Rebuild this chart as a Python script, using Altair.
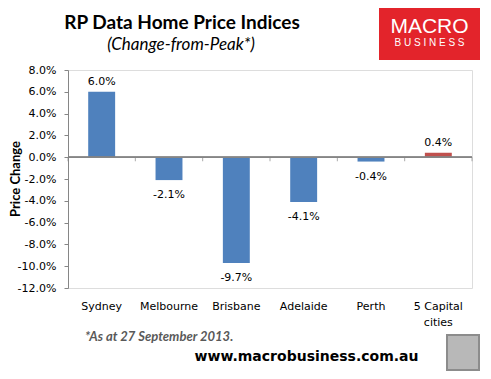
import altair as alt
import pandas as pd

cities = ["Sydney", "Melbourne", "Brisbane", "Adelaide", "Perth", "5 Capital cities"]
changes = [0.060, -0.021, -0.097, -0.041, -0.004, 0.004]
bar_colors = ["#4F81BD", "#4F81BD", "#4F81BD", "#4F81BD", "#4F81BD", "#C0504D"]
y_ticks = [0.08, 0.06, 0.04, 0.02, 0.0, -0.02, -0.04, -0.06, -0.08, -0.10, -0.12]

df = pd.DataFrame({"city": cities, "change": changes, "color": bar_colors})

W, H = 404, 218
LABEL_FONT = "DejaVu Sans"
TITLE_FONT = "Lato"
AXIS_GRAY = "#868686"
PAD_IN, PAD_OUT = 0.6, 0.3
STEP = W / (len(cities) - PAD_IN + 2 * PAD_OUT)
GAP_HALF = STEP * PAD_IN / 2

xscale = alt.Scale(domain=cities, paddingInner=PAD_IN, paddingOuter=PAD_OUT)
yscale = alt.Scale(domain=[-0.12, 0.08], nice=False, zero=False)

yaxis = alt.Axis(
    values=y_ticks, format=".1%", grid=False, domainColor=AXIS_GRAY, tickColor=AXIS_GRAY,
    tickSize=4, labelPadding=8, labelFont=LABEL_FONT, labelFontSize=11, labelColor="#000000",
    title=None, domainWidth=1,
)

label_axis = alt.Axis(
    title=None, domain=False, ticks=False, labelAngle=0, labelPadding=12,
    labelFont=LABEL_FONT, labelFontSize=11, labelColor="#000000", labelLineHeight=16,
    labelExpr="datum.label == '5 Capital cities' ? ['5 Capital', 'cities'] : datum.label",
)


def X(**kw):
    return alt.X("city:N", scale=xscale, sort=cities, axis=label_axis, **kw)


base = alt.Chart(df)

bars = base.mark_bar().encode(
    x=X(),
    y=alt.Y("change:Q", scale=yscale, axis=yaxis),
    color=alt.Color("color:N", scale=None, legend=None),
)

zero_line = base.transform_calculate(z="0").mark_rule(color=AXIS_GRAY, strokeWidth=1).encode(
    y=alt.Y("z:Q", scale=yscale, axis=yaxis)
)

cat_ticks = base.transform_calculate(z="0").mark_tick(
    orient="vertical", size=4, thickness=1, yOffset=2, xOffset=-GAP_HALF, color=AXIS_GRAY
).encode(
    x=X(bandPosition=0),
    y=alt.Y("z:Q", scale=yscale, axis=yaxis),
)

end_tick = base.transform_filter(
    alt.datum.city == cities[-1]
).transform_calculate(z="0").mark_tick(
    orient="vertical", size=4, thickness=1, yOffset=2, xOffset=GAP_HALF, color=AXIS_GRAY
).encode(
    x=X(bandPosition=1),
    y=alt.Y("z:Q", scale=yscale, axis=yaxis),
)

pos_text = base.transform_filter("datum.change >= 0").mark_text(
    baseline="bottom", dy=-5, font=LABEL_FONT, fontSize=11, color="#000000"
).encode(
    x=X(),
    y=alt.Y("change:Q", scale=yscale, axis=yaxis),
    text=alt.Text("change:Q", format=".1%"),
)

neg_text = base.transform_filter("datum.change < 0").mark_text(
    baseline="top", dy=9, font=LABEL_FONT, fontSize=11, color="#000000"
).encode(
    x=X(),
    y=alt.Y("change:Q", scale=yscale, axis=yaxis),
    text=alt.Text("change:Q", format=".1%"),
)

# decorations (page coords minus plot origin (68, 70))
title = alt.Chart(pd.DataFrame({"t": ["RP Data Home Price Indices"]})).mark_text(
    font=TITLE_FONT, fontSize=19, fontWeight="bold", color="#000000", align="center", baseline="middle"
).encode(x=alt.value(114), y=alt.value(-47), text="t:N")

subtitle = alt.Chart(pd.DataFrame({"t": ["(Change-from-Peak*)"]})).mark_text(
    font=TITLE_FONT, fontSize=17, fontStyle="italic", color="#000000", align="center", baseline="middle"
).encode(x=alt.value(113), y=alt.value(-25), text="t:N")

ytitle = alt.Chart(pd.DataFrame({"t": ["Price Change"]})).mark_text(
    font=TITLE_FONT, fontSize=13, fontWeight="bold", color="#000000", angle=270,
    align="center", baseline="middle"
).encode(x=alt.value(-52), y=alt.value(109), text="t:N")

logo_bg = alt.Chart(pd.DataFrame({"a": [1]})).mark_rect(color="#E3242B").encode(
    x=alt.value(311), x2=alt.value(412), y=alt.value(-63), y2=alt.value(-10)
)
logo_t1 = alt.Chart(pd.DataFrame({"t": ["MACRO"]})).mark_text(
    font="Liberation Sans", fontSize=21, color="#FFFFFF", align="center", baseline="middle"
).encode(x=alt.value(361.5), y=alt.value(-43), text="t:N")
logo_t2 = alt.Chart(pd.DataFrame({"t": ["B U S I N E S S"]})).mark_text(
    font="Liberation Sans", fontSize=10, color="#FFFFFF", align="center", baseline="middle"
).encode(x=alt.value(361.5), y=alt.value(-27), text="t:N")

footnote = alt.Chart(pd.DataFrame({"t": ["*As at 27 September 2013."]})).mark_text(
    font=TITLE_FONT, fontSize=13, fontWeight="bold", fontStyle="italic", color="#595959",
    align="left", baseline="middle"
).encode(x=alt.value(17), y=alt.value(267), text="t:N")

url = alt.Chart(pd.DataFrame({"t": ["www.macrobusiness.com.au"]})).mark_text(
    font="DejaVu Sans", fontSize=14, fontWeight="bold", color="#000000",
    align="center", baseline="middle"
).encode(x=alt.value(238.5), y=alt.value(287), text="t:N")

wolf = alt.Chart(pd.DataFrame({"a": [1]})).mark_rect(
    color="#B8B8B8", stroke="#8C8C8C", strokeWidth=2
).encode(x=alt.value(379), x2=alt.value(411), y=alt.value(265), y2=alt.value(300))

chart = alt.layer(
    bars, zero_line, cat_ticks, end_tick, pos_text, neg_text,
    title, subtitle, ytitle, logo_bg, logo_t1, logo_t2, footnote, url, wolf
).properties(
    width=W, height=H,
    autosize=alt.AutoSizeParams(type="none"),
    padding={"left": 60, "top": 62, "right": 11, "bottom": 83},
    background="#FFFFFF",
).configure_view(fill="#F2F2F2", strokeWidth=0).configure(
    locale=alt.Locale(number=alt.NumberLocale(
        decimal=".", thousands=",", grouping=[3], currency=["$", ""], minus="-"
    ))
)

chart.save("out.html", embed_options={"renderer": "svg", "actions": False})
